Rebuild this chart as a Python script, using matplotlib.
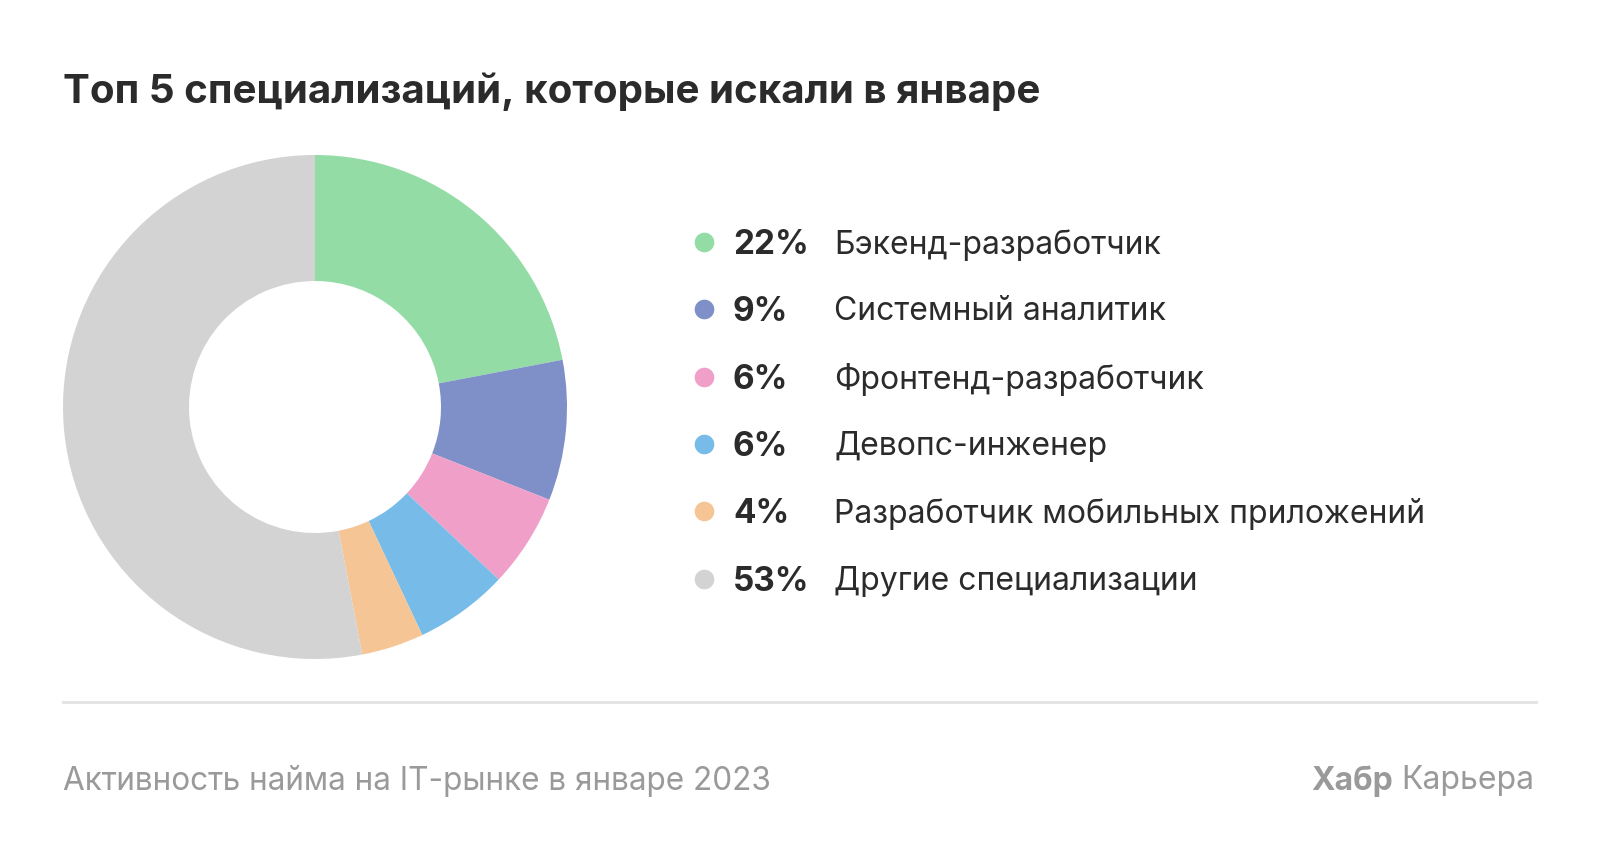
import matplotlib
matplotlib.use("Agg")
import matplotlib.pyplot as plt

plt.rcParams['font.family'] = ['Inter', 'DejaVu Sans']

title = "Топ 5 специализаций, которые искали в январе"
labels = ["Бэкенд-разработчик", "Системный аналитик", "Фронтенд-разработчик",
          "Девопс-инженер", "Разработчик мобильных приложений", "Другие специализации"]
shares = [22, 9, 6, 6, 4, 53]
colors = ["#93dca6", "#7f8fc8", "#f0a0c8", "#77bce8", "#f5c595", "#d3d3d3"]
footer_left = "Активность найма на IT-рынке в январе 2023"

W, H = 1600, 862
fig = plt.figure(figsize=(W / 100, H / 100), dpi=100)
fig.patch.set_facecolor("white")

# donut
pax = fig.add_axes([63 / W, 202 / H, 504 / W, 504 / H])
pax.pie(shares, colors=colors, startangle=90, counterclock=False,
        radius=1, wedgeprops=dict(width=0.5, linewidth=0))
pax.set_xlim(-1, 1)
pax.set_ylim(-1, 1)
pax.set_aspect("equal")
pax.axis("off")

# overlay in pixel coords
ax = fig.add_axes([0, 0, 1, 1])
ax.set_xlim(0, W)
ax.set_ylim(H, 0)
ax.axis("off")

ax.text(63, 92, title, fontsize=29, fontweight="bold", color="#2b2b2b",
        ha="left", va="center")

row_y = [245, 312, 380, 447, 514, 582]
for y, s, lab, c in zip(row_y, shares, labels, colors):
    ax.scatter([704], [y - 2], s=200, color=c, linewidths=0)
    ax.text(733, y, f"{s}%", fontsize=24, fontweight="bold", color="#2b2b2b",
            ha="left", va="center")
    ax.text(834, y, lab, fontsize=23, color="#2b2b2b", ha="left", va="center")

ax.plot([63, 1536], [703, 703], color="#e2e2e2", linewidth=2)

ax.text(63, 781, footer_left, fontsize=22.7, color="#9a9a9a", ha="left", va="center")
t = ax.text(1534, 781, "Карьера", fontsize=23, color="#9a9a9a", ha="right", va="center")
fig.canvas.draw()
bb = t.get_window_extent()
ax.text(1534 - bb.width - 8, 781, "Хабр", fontsize=23, fontweight="bold",
        color="#9a9a9a", ha="right", va="center")

fig.savefig("out.png", dpi=100, facecolor="white")
